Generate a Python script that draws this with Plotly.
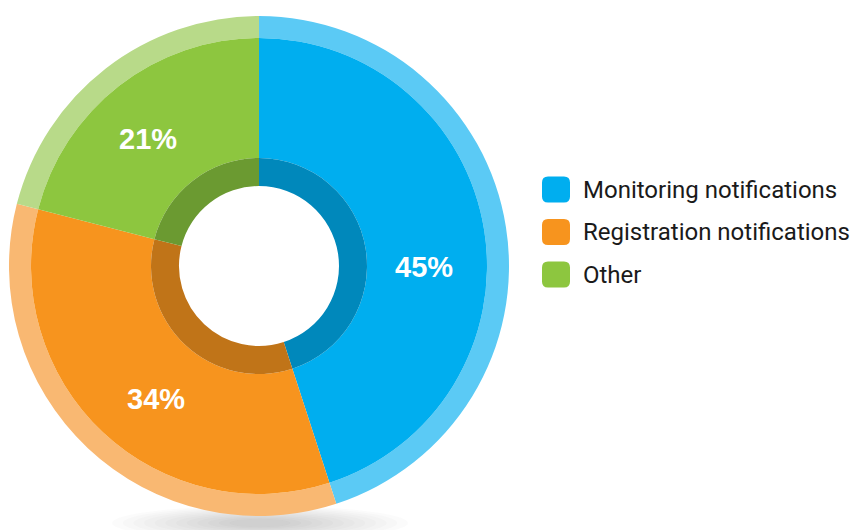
import plotly.graph_objects as go

# ---- data ----
categories = ["Monitoring notifications", "Registration notifications", "Other"]
shares = [45, 34, 21]
main_colors = ["#00AEEF", "#F7941E", "#8DC63F"]
outer_colors = ["#5BCAF5", "#F9B872", "#B8DA89"]
inner_colors = ["#0088BB", "#C07418", "#6B9A31"]

W, H = 850, 530
CX, CY = 259, 266  # donut centre in px


def px(x, y):
    return x / W, 1 - y / H


def dom(r):
    return dict(x=[(CX - r) / W, (CX + r) / W], y=[(H - CY - r) / H, (H - CY + r) / H])


fig = go.Figure()
rings = [(250, 228, outer_colors), (228, 108, main_colors), (108, 80, inner_colors)]
for r_out, r_in, cols in rings:
    fig.add_trace(go.Pie(
        labels=categories, values=shares, sort=False, direction="clockwise", rotation=0,
        hole=r_in / r_out, domain=dom(r_out),
        marker=dict(colors=cols, line=dict(width=0)),
        textinfo="none", hoverinfo="skip", showlegend=False,
    ))

# percentage labels
label_px = [(423.5, 267), (155.5, 399), (147.5, 139)]
annotations = []
total = sum(shares)
for v, (lx, ly) in zip(shares, label_px):
    x, y = px(lx, ly)
    annotations.append(dict(
        x=x, y=y, xref="paper", yref="paper", showarrow=False,
        text=f"{round(100 * v / total)}%", xanchor="center", yanchor="middle",
        font=dict(family="Liberation Sans, Arial, sans-serif", size=29, color="white", weight="bold"),
    ))

shapes = []
# soft shadow under the donut
n = 12
for i in range(n):
    f = 1 - i / n
    rx, ry = 128 * f + 20, 14 * f + 3
    x0, y0 = px(CX + 1 - rx, 523 - ry)
    x1, y1 = px(CX + 1 + rx, 523 + ry)
    shapes.append(dict(type="circle", xref="paper", yref="paper", x0=x0, x1=x1, y0=y1, y1=y0,
                       fillcolor="rgba(90,90,90,0.022)", line=dict(width=0), layer="below"))


def rrect(x0, y0, x1, y1, r):
    pts = [
        (x0 + r, y0), (x1 - r, y0), ("Q", x1, y0, x1, y0 + r), (x1, y1 - r),
        ("Q", x1, y1, x1 - r, y1), (x0 + r, y1), ("Q", x0, y1, x0, y1 - r),
        (x0, y0 + r), ("Q", x0, y0, x0 + r, y0),
    ]
    s = ""
    for i, p in enumerate(pts):
        if p[0] == "Q":
            a = px(p[1], p[2]); b = px(p[3], p[4])
            s += f" Q{a[0]:.5f},{a[1]:.5f} {b[0]:.5f},{b[1]:.5f}"
        else:
            a = px(*p)
            s += (" M" if i == 0 else " L") + f"{a[0]:.5f},{a[1]:.5f}"
    return s + " Z"


# legend
leg_y = [189.5, 232, 274.5]
for cat, col, yc in zip(categories, main_colors, leg_y):
    shapes.append(dict(type="path", xref="paper", yref="paper",
                       path=rrect(542, yc - 13, 570, yc + 13, 6),
                       fillcolor=col, line=dict(width=0)))
    x, y = px(581, yc + 0.5)
    annotations.append(dict(
        x=x, y=y, xref="paper", yref="paper", showarrow=False, text=cat,
        xanchor="left", yanchor="middle",
        font=dict(family="Roboto, sans-serif", size=24, color="#1a1a1a"),
    ))

fig.update_layout(
    width=W, height=H, margin=dict(l=0, r=0, t=0, b=0),
    paper_bgcolor="white", plot_bgcolor="white",
    showlegend=False, annotations=annotations, shapes=shapes,
)
fig.write_html("out.html", post_script="document.body.style.margin='0';",
               config={"displayModeBar": False})
